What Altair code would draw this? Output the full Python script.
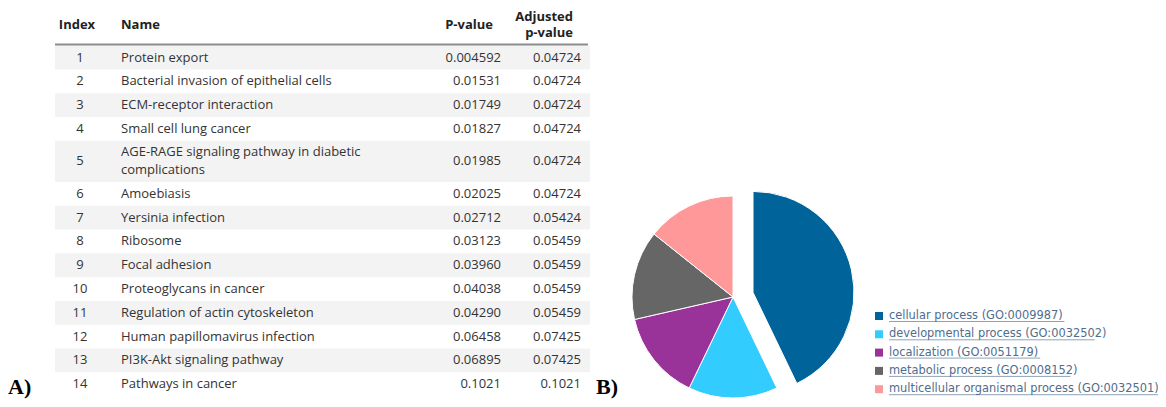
import math
import altair as alt
import pandas as pd

# ---------------- data ----------------
indices = list(range(1, 15))
names = [
    "Protein export",
    "Bacterial invasion of epithelial cells",
    "ECM-receptor interaction",
    "Small cell lung cancer",
    "AGE-RAGE signaling pathway in diabetic\ncomplications",
    "Amoebiasis",
    "Yersinia infection",
    "Ribosome",
    "Focal adhesion",
    "Proteoglycans in cancer",
    "Regulation of actin cytoskeleton",
    "Human papillomavirus infection",
    "PI3K-Akt signaling pathway",
    "Pathways in cancer",
]
p_values = ["0.004592", "0.01531", "0.01749", "0.01827", "0.01985", "0.02025", "0.02712",
            "0.03123", "0.03960", "0.04038", "0.04290", "0.06458", "0.06895", "0.1021"]
adj_p_values = ["0.04724", "0.04724", "0.04724", "0.04724", "0.04724", "0.04724", "0.05424",
                "0.05459", "0.05459", "0.05459", "0.05459", "0.07425", "0.07425", "0.1021"]
headers = ["Index", "Name", "P-value", "Adjusted\np-value"]

go_terms = [
    "cellular process (GO:0009987)",
    "developmental process (GO:0032502)",
    "localization (GO:0051179)",
    "metabolic process (GO:0008152)",
    "multicellular organismal process (GO:0032501)",
]
go_counts = [3, 1, 1, 1, 1]
go_colors = ["#00639a", "#33ccff", "#993399", "#666666", "#ff9999"]
panel_labels = ["A)", "B)"]

# ---------------- table frame ----------------
LH = 18.0
row_px = 23.8
top_px = 37.6
n_lines = [n.count("\n") + 1 for n in names]
row_units = pd.Series([1.73 if k > 1 else 1.0 for k in n_lines])
ends = row_units.cumsum()
starts = ends - row_units
mids = starts + row_units / 2
first_line = mids - (pd.Series(n_lines) - 1) * (LH / 2) / row_px
table = pd.DataFrame({
    "idx": [str(i) for i in indices],
    "name": names,
    "p": p_values,
    "adj": adj_p_values,
    "start": starts,
    "end": ends,
    "mid": mids,
    "first": first_line,
    "odd": [i % 2 == 1 for i in indices],
})
total_units = float(ends.iloc[-1])
yscale = alt.Scale(domain=[0, total_units], range=[top_px, top_px + total_units * row_px],
                   nice=False, zero=False)

FONT = "Open Sans"
TXT = "#333333"

layers = []

base = alt.Chart(table)
stripes = base.transform_filter("datum.odd").mark_rect(color="#f3f3f3").encode(
    x=alt.value(47), x2=alt.value(582),
    y=alt.Y("start:Q", scale=yscale, axis=None), y2="end:Q",
)
layers.append(stripes)

hdr_df = pd.DataFrame({"h": [0]})
header_rule = alt.Chart(hdr_df).mark_rule(color="#8c8c8c", strokeWidth=2).encode(
    x=alt.value(47), x2=alt.value(580), y=alt.value(36.5)
)
layers.append(header_rule)

cols = [
    ("idx", 72, "center", 69, "mid"),
    ("name", 113, "left", 113, "first"),
    ("p", 493, "right", 485, "mid"),
    ("adj", 573, "right", 565, "mid"),
]
for (field, xv, al, hx, yf), head in zip(cols, headers):
    layers.append(
        base.mark_text(font=FONT, fontSize=13, color=TXT, align=al, baseline="middle",
                       lineBreak="\n", lineHeight=LH).encode(
            x=alt.value(xv),
            y=alt.Y(f"{yf}:Q", scale=yscale, axis=None),
            text=f"{field}:N",
        )
    )
    hy = 17 - (head.count("\n")) * 8
    layers.append(
        alt.Chart(pd.DataFrame({"t": [head]})).mark_text(
            font=FONT, fontSize=13, fontWeight="bold", color="#222222", align=al,
            baseline="middle", lineBreak="\n", lineHeight=16).encode(
            x=alt.value(hx), y=alt.value(hy), text="t:N")
    )

# ---------------- pie ----------------
pie = pd.DataFrame({"term": go_terms, "count": go_counts, "k": list(range(len(go_terms)))})
color_scale = alt.Scale(domain=go_terms, range=go_colors)
theta_scale = alt.Scale(domain=[0, sum(go_counts)], range=[0, 2 * math.pi])

pie_base = alt.Chart(pie).transform_window(
    cum="sum(count)", sort=[alt.SortField("k")], frame=[None, 0]
).transform_calculate(s="datum.cum - datum.count")

cx, cy, r = 725, 289, 101
pie_rest = pie_base.transform_filter("datum.k > 0").mark_arc(
    radius=r, stroke="white", strokeWidth=1).encode(
    theta=alt.Theta("s:Q", scale=theta_scale), theta2="cum:Q",
    color=alt.Color("term:N", scale=color_scale, legend=None),
    x=alt.value(cx), y=alt.value(cy),
)
pie_main = pie_base.transform_filter("datum.k == 0").mark_arc(
    radius=r, stroke="white", strokeWidth=1).encode(
    theta=alt.Theta("s:Q", scale=theta_scale), theta2="cum:Q",
    color=alt.Color("term:N", scale=color_scale, legend=None),
    x=alt.value(cx + 20), y=alt.value(cy - 4.6),
)
layers += [pie_rest, pie_main]

# ---------------- legend ----------------
leg_y = alt.Scale(domain=[0, 4], range=[308, 308 + 4 * 18.3], nice=False, zero=False)
leg_y_u = alt.Scale(domain=[0, 4], range=[313.5, 313.5 + 4 * 18.3], nice=False, zero=False)
LINK = "#4f6d8d"
leg_base = alt.Chart(pie).transform_calculate(n="length(datum.term)", z="0")
layers.append(
    leg_base.mark_square(size=64, opacity=1).encode(
        x=alt.value(871), y=alt.Y("k:Q", scale=leg_y, axis=None),
        color=alt.Color("term:N", scale=color_scale, legend=None))
)
layers.append(
    leg_base.mark_text(font="DejaVu Sans", fontSize=11.4, color=LINK, align="left",
                       baseline="middle").encode(
        x=alt.value(881), y=alt.Y("k:Q", scale=leg_y, axis=None), text="term:N")
)
layers.append(
    leg_base.mark_rule(color=LINK, strokeWidth=0.8, opacity=0.8).encode(
        x=alt.X("z:Q", scale=alt.Scale(domain=[0, 100], range=[881, 881 + 100 * 6.05]), axis=None),
        x2="n:Q",
        y=alt.Y("k:Q", scale=leg_y_u, axis=None))
)

# ---------------- panel labels ----------------
lab_pos = [(0, 386), (588, 386)]
for lab, (lx, ly) in zip(panel_labels, lab_pos):
    layers.append(
        alt.Chart(pd.DataFrame({"t": [lab]})).mark_text(
            font="Liberation Serif", fontSize=22, fontWeight="bold", color="black",
            align="left", baseline="alphabetic").encode(
            x=alt.value(lx), y=alt.value(ly), text="t:N")
    )

chart = alt.layer(*layers).resolve_scale(x="independent", y="independent").properties(
    width=1150, height=391, autosize="none", padding=0
).configure_view(strokeWidth=0)

chart.save("out.html", embed_options={"renderer": "svg", "actions": False})
